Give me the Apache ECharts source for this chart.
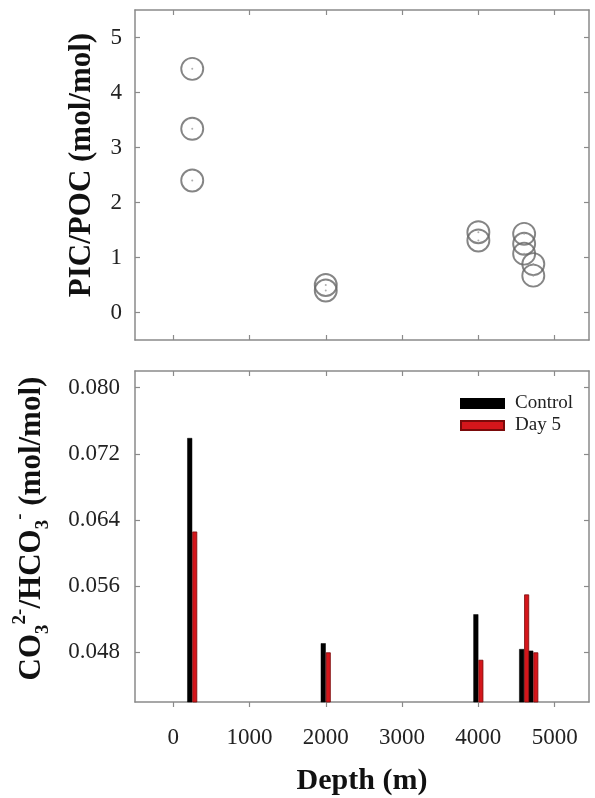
<!DOCTYPE html>
<html>
<head>
<meta charset="utf-8">
<script src="https://cdn.jsdelivr.net/npm/echarts@6/dist/echarts.min.js"></script>
<style>html,body{margin:0;padding:0;background:#fff}#c{width:595px;height:798px}</style>
</head>
<body>
<div id="c"></div>
<script>
// Top panel: PIC/POC ratio vs depth
const scatterDepth = [250, 250, 250, 2000, 2000, 4000, 4000, 4600, 4600, 4600, 4720, 4720];
const picPoc = [4.43, 3.34, 2.40, 0.50, 0.40, 1.46, 1.31, 1.43, 1.25, 1.07, 0.88, 0.67];
// Bottom panel: CO3 2- / HCO3 - ratio vs depth
const barDepth = [250, 2000, 4000, 4600, 4720];
const controlVals = [0.0739, 0.0491, 0.0526, 0.0484, 0.0482];
const day5Vals = [0.0626, 0.0480, 0.0471, 0.0550, 0.0480];
// Ticks
const depthTicks = [0, 1000, 2000, 3000, 4000, 5000];
const picTicks = [0, 1, 2, 3, 4, 5];
const co3Ticks = [0.048, 0.056, 0.064, 0.072, 0.080];

const FONT = 'Liberation Serif';
const AX = '#8a8a8a';
const TXT = '#222';

function xAxisDef(gridIndex, position, showLabels, tickInside) {
  return {
    type: 'value', gridIndex, position, min: -500, max: 5450,
    axisLine: { show: true, onZero: false, lineStyle: { color: AX, width: 1.5 } },
    axisTick: { show: true, inside: tickInside, length: 5, customValues: depthTicks, lineStyle: { color: AX, width: 1.2 } },
    axisLabel: { show: showLabels, customValues: depthTicks, margin: 24, fontFamily: FONT, fontSize: 23, color: TXT, formatter: v => String(v) },
    splitLine: { show: false }
  };
}
function yAxisDef(gridIndex, position, min, max, ticks, showLabels, fmt) {
  return {
    type: 'value', gridIndex, position, min, max,
    axisLine: { show: true, onZero: false, lineStyle: { color: AX, width: 1.5 } },
    axisTick: { show: true, inside: true, length: 5, customValues: ticks, lineStyle: { color: AX, width: 1.2 } },
    axisLabel: { show: showLabels, customValues: ticks, margin: 13, fontFamily: FONT, fontSize: 23, color: TXT, formatter: fmt },
    splitLine: { show: false }
  };
}

const chart = echarts.init(document.getElementById('c'), null, { renderer: 'canvas' });

const xTopBottom = xAxisDef(0, 'bottom', false, true);
const xTopTop = xAxisDef(0, 'top', false, true);
const xBotBottom = xAxisDef(1, 'bottom', true, false);
xBotBottom.name = 'Depth (m)';
xBotBottom.nameLocation = 'middle';
xBotBottom.nameGap = 64;
xBotBottom.nameTextStyle = { fontFamily: FONT, fontSize: 30, fontWeight: 'bold', color: '#111' };
const xBotTop = xAxisDef(1, 'top', false, true);

const yTopLeft = yAxisDef(0, 'left', -0.5, 5.5, picTicks, true, v => String(v));
yTopLeft.name = 'PIC/POC (mol/mol)';
yTopLeft.nameLocation = 'middle';
yTopLeft.nameRotate = 90;
yTopLeft.nameGap = 38;
yTopLeft.nameTextStyle = { fontFamily: FONT, fontSize: 31, fontWeight: 'bold', color: '#111', padding: [0, 0, 0, 20] };
const yTopRight = yAxisDef(0, 'right', -0.5, 5.5, picTicks, false);

const yBotLeft = yAxisDef(1, 'left', 0.042, 0.082, co3Ticks, true, v => v.toFixed(3));
yBotLeft.axisLabel.margin = 15;
yBotLeft.name = '{m|CO}{sub|3}{sup|2-}{m|/HCO}{sub|3}{sup|-}{m| (mol/mol)}';
yBotLeft.nameLocation = 'middle';
yBotLeft.nameRotate = 90;
yBotLeft.nameGap = 82;
yBotLeft.nameTextStyle = {
  fontFamily: FONT, fontSize: 31, fontWeight: 'bold', color: '#111', padding: [0, 0, 0, 16],
  rich: {
    m: { fontFamily: FONT, fontSize: 31, fontWeight: 'bold', color: '#111', lineHeight: 42 },
    sub: { fontFamily: FONT, fontSize: 19, fontWeight: 'bold', color: '#111', verticalAlign: 'bottom', lineHeight: 42 },
    sup: { fontFamily: FONT, fontSize: 19, fontWeight: 'bold', color: '#111', verticalAlign: 'top', lineHeight: 42 }
  }
};
const yBotRight = yAxisDef(1, 'right', 0.042, 0.082, co3Ticks, false);

const option = {
  animation: false,
  backgroundColor: '#fff',
  grid: [
    { left: 135, right: 6, top: 10, height: 330 },
    { left: 135, right: 6, top: 371, height: 331 }
  ],
  xAxis: [xTopBottom, xTopTop, xBotBottom, xBotTop],
  yAxis: [yTopLeft, yTopRight, yBotLeft, yBotRight],
  legend: {
    data: ['Control', 'Day 5'],
    orient: 'vertical', left: 455, top: 389,
    icon: 'rect', itemWidth: 43, itemHeight: 9, itemGap: 3,
    textStyle: { fontFamily: FONT, fontSize: 19, color: TXT, padding: [0, 0, 0, 6] }
  },
  series: [
    {
      name: 'PIC/POC', type: 'scatter', xAxisIndex: 0, yAxisIndex: 0,
      data: scatterDepth.map((d, i) => [d, picPoc[i]]),
      symbol: 'circle', symbolSize: 22,
      itemStyle: { color: 'rgba(255,255,255,0)', borderColor: '#666', borderWidth: 1.9 }
    },
    {
      name: 'centers', type: 'scatter', xAxisIndex: 0, yAxisIndex: 0, silent: true,
      data: scatterDepth.map((d, i) => [d, picPoc[i]]),
      symbol: 'circle', symbolSize: 2,
      itemStyle: { color: '#999' }
    },
    {
      name: 'Control', type: 'bar', xAxisIndex: 2, yAxisIndex: 2,
      data: barDepth.map((d, i) => [d, controlVals[i]]),
      barWidth: 5, barGap: '0%',
      itemStyle: { color: '#000', borderColor: '#000', borderWidth: 0.5 }
    },
    {
      name: 'Day 5', type: 'bar', xAxisIndex: 2, yAxisIndex: 2,
      data: barDepth.map((d, i) => [d, day5Vals[i]]),
      barWidth: 5, barGap: '0%',
      itemStyle: { color: '#d4161b', borderColor: '#7a0a0a', borderWidth: 0.8 }
    }
  ]
};
chart.setOption(option);
</script>
</body>
</html>
